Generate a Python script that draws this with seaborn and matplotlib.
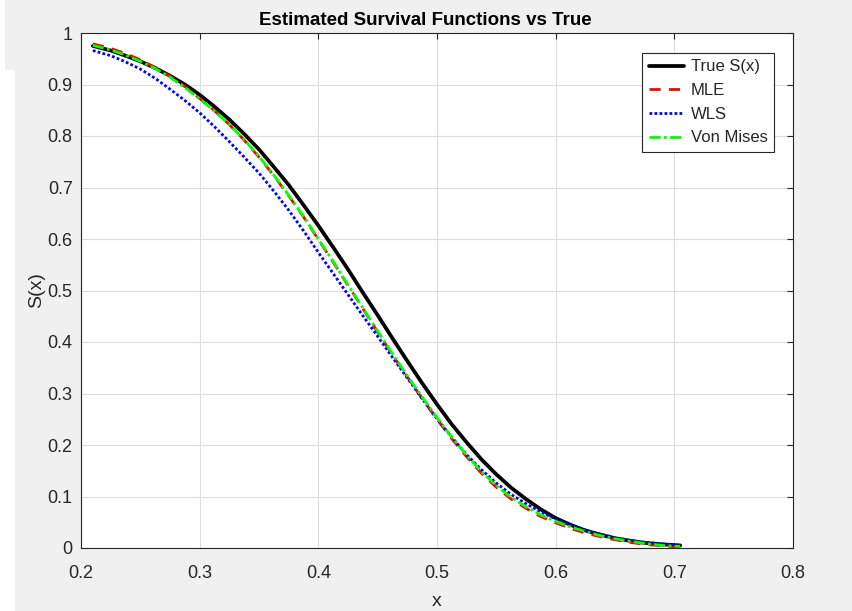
import numpy as np
import pandas as pd
import matplotlib
matplotlib.use("Agg")
import matplotlib.pyplot as plt
import seaborn as sns
from matplotlib.patches import Rectangle

# ---- data ----
x_vals = [0.21, 0.225, 0.2375, 0.25, 0.2625, 0.275, 0.2875, 0.3, 0.3125, 0.325,
          0.3375, 0.35, 0.3625, 0.375, 0.3875, 0.4, 0.4125, 0.425, 0.4375, 0.45,
          0.4625, 0.475, 0.4875, 0.5, 0.5125, 0.525, 0.5375, 0.55, 0.5625, 0.575,
          0.5875, 0.6, 0.6125, 0.625, 0.6375, 0.65, 0.6625, 0.675, 0.69, 0.705]
true_s = [0.975, 0.966, 0.956, 0.945, 0.932, 0.917, 0.900, 0.880, 0.857, 0.832,
          0.804, 0.774, 0.740, 0.705, 0.666, 0.626, 0.584, 0.541, 0.496, 0.452,
          0.407, 0.363, 0.320, 0.279, 0.240, 0.205, 0.172, 0.143, 0.117, 0.095,
          0.075, 0.058, 0.045, 0.034, 0.026, 0.019, 0.014, 0.010, 0.007, 0.005]
mle_s = [0.979, 0.970, 0.960, 0.948, 0.933, 0.916, 0.896, 0.873, 0.849, 0.822,
         0.792, 0.759, 0.723, 0.684, 0.643, 0.599, 0.555, 0.510, 0.465, 0.419,
         0.375, 0.332, 0.290, 0.250, 0.212, 0.177, 0.145, 0.118, 0.095, 0.077,
         0.061, 0.049, 0.038, 0.029, 0.022, 0.016, 0.011, 0.007, 0.004, 0.002]
wls_s = [0.966, 0.956, 0.944, 0.930, 0.912, 0.891, 0.869, 0.845, 0.818, 0.789,
         0.759, 0.728, 0.693, 0.656, 0.616, 0.574, 0.533, 0.492, 0.451, 0.411,
         0.370, 0.330, 0.290, 0.251, 0.215, 0.181, 0.152, 0.126, 0.104, 0.086,
         0.070, 0.056, 0.045, 0.035, 0.027, 0.020, 0.015, 0.011, 0.008, 0.005]
vm_s = [0.976, 0.967, 0.957, 0.945, 0.931, 0.914, 0.894, 0.872, 0.848, 0.822,
        0.793, 0.760, 0.724, 0.685, 0.644, 0.600, 0.556, 0.511, 0.466, 0.421,
        0.377, 0.334, 0.293, 0.253, 0.215, 0.180, 0.148, 0.121, 0.098, 0.080,
        0.064, 0.052, 0.041, 0.032, 0.024, 0.018, 0.013, 0.009, 0.005, 0.003]
series_names = ["True S(x)", "MLE", "WLS", "Von Mises"]
x_ticks = [0.2, 0.3, 0.4, 0.5, 0.6, 0.7, 0.8]
y_ticks = [0, 0.1, 0.2, 0.3, 0.4, 0.5, 0.6, 0.7, 0.8, 0.9, 1]

sns.set_style("white")
plt.rcParams["font.family"] = ["Liberation Sans", "DejaVu Sans"]

W, H = 852, 611
fig = plt.figure(figsize=(W / 100, H / 100), dpi=100, facecolor="#f0f0f0")
# white strips of the screenshot border
fig.patches.append(Rectangle((0, 0), 15 / W, (H - 70) / H, transform=fig.transFigure,
                             facecolor="white", edgecolor="none", zorder=0))
fig.patches.append(Rectangle((0, (H - 70) / H), 5 / W, 70 / H, transform=fig.transFigure,
                             facecolor="white", edgecolor="none", zorder=0))

ax = fig.add_axes([81 / W, (H - 548) / H, (793 - 81) / W, (548 - 33) / H])
ax.set_facecolor("white")

styles = [
    dict(color="black", linestyle="-", linewidth=2.7),
    dict(color="#ff0000", linestyle=(0, (4, 3)), linewidth=2.0),
    dict(color="#0000ff", linestyle=(0, (1, 0.8)), linewidth=2.0),
    dict(color="#00ff00", linestyle=(0, (4, 1.2, 1, 1.2)), linewidth=2.0),
]
for name, vals, st in zip(series_names, [true_s, mle_s, wls_s, vm_s], styles):
    df = pd.DataFrame({"x": x_vals, "S": vals})
    sns.lineplot(data=df, x="x", y="S", ax=ax, label=name, **st)

ax.set_xlim(0.2, 0.8)
ax.set_ylim(0, 1)
ax.set_xticks(x_ticks)
ax.set_xticklabels([f"{t:g}" for t in x_ticks])
ax.set_yticks(y_ticks)
ax.set_yticklabels([f"{t:g}" for t in y_ticks])
ax.grid(True, color="#dedede", linewidth=0.8)
ax.set_axisbelow(True)
for sp in ax.spines.values():
    sp.set_color("#262626")
    sp.set_linewidth(0.8)
ax.tick_params(direction="in", top=True, right=True, length=4, width=0.8,
               colors="#262626", labelsize=13)
ax.tick_params(axis="x", pad=12)
ax.tick_params(axis="y", pad=6)
ax.set_xlabel("x", fontsize=14, color="#262626", labelpad=8)
ax.set_ylabel("S(x)", fontsize=14, color="#262626", labelpad=2)
ax.set_title("Estimated Survival Functions vs True", fontsize=13.5, fontweight="bold",
             color="black", pad=6, x=0.483)

leg = ax.legend(loc="upper right", bbox_to_anchor=(0.973, 0.961), borderaxespad=0,
                fancybox=False, framealpha=1, facecolor="white", edgecolor="#262626",
                fontsize=12, handlelength=2.1, handletextpad=0.42, labelspacing=0.52,
                borderpad=0.38)
leg.get_frame().set_linewidth(0.8)

fig.savefig("out.png", dpi=100, facecolor=fig.get_facecolor())
